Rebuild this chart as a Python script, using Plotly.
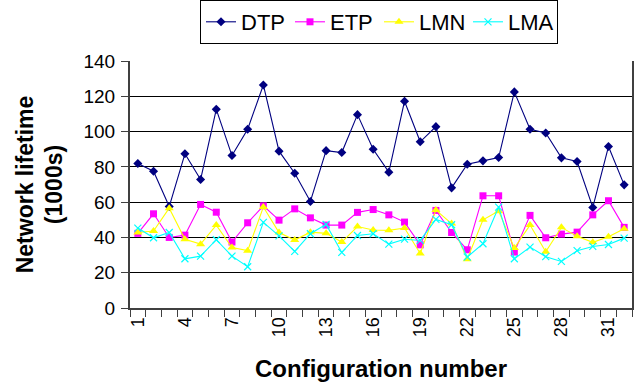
import plotly.graph_objects as go

# Network lifetime (1000s) for each of the 32 configurations
configs = list(range(1, 33))
dtp = [81.9, 77.5, 57.5, 87.4, 72.8, 112.6, 86.4, 101.3, 126.4, 88.9,
       76.4, 60.4, 89.2, 88.1, 109.6, 90.0, 77.0, 117.2, 94.2, 102.8,
       68.1, 81.5, 83.4, 85.3, 122.5, 101.3, 99.2, 85.1, 83.0, 57.0,
       91.5, 69.8]
etp = [42.3, 53.4, 40.0, 41.3, 58.7, 54.3, 37.4, 48.3, 57.9, 49.8,
       56.2, 51.1, 47.0, 47.0, 54.2, 55.8, 52.8, 48.7, 35.8, 55.3,
       42.8, 33.0, 63.6, 63.6, 31.7, 52.5, 39.8, 41.9, 43.0, 52.8,
       60.8, 45.7]
lmn = [42.8, 43.6, 56.6, 39.0, 36.2, 47.0, 34.3, 32.5, 57.2, 42.8,
       38.5, 43.0, 42.3, 37.4, 46.2, 44.2, 44.0, 45.3, 30.9, 55.5,
       47.9, 27.7, 50.0, 54.9, 34.0, 47.0, 31.9, 45.7, 40.6, 37.2,
       40.4, 44.9]
lma = [45.3, 39.8, 42.8, 27.9, 29.4, 38.7, 29.4, 23.4, 48.5, 40.9,
       32.1, 42.1, 47.4, 31.5, 41.1, 42.1, 36.2, 39.0, 38.3, 50.2,
       47.2, 28.9, 36.4, 57.2, 27.9, 34.5, 29.1, 26.4, 32.5, 34.9,
       36.0, 39.6]
x_ticks = list(range(1, 33, 3))
y_ticks = list(range(0, 141, 20))

FONT = "Liberation Sans, Arial, sans-serif"

series = [
    ("DTP", dtp, "#000080", dict(symbol="diamond", size=7)),
    ("ETP", etp, "#FF00FF", dict(symbol="square", size=7)),
    ("LMN", lmn, "#FFFF00", dict(symbol="triangle-up", size=8)),
    ("LMA", lma, "#00FFFF", dict(symbol="x-thin", size=7,
                                 line=dict(width=1.2, color="#00FFFF"))),
]

fig = go.Figure()
for name, vals, color, marker in series:
    fig.add_trace(go.Scatter(
        x=configs, y=vals, name=name, mode="lines+markers",
        line=dict(color=color, width=1.1),
        marker=dict(color=color, **marker),
    ))

fig.update_layout(
    width=640, height=387,
    margin=dict(l=130, r=6, t=61, b=79),
    paper_bgcolor="white", plot_bgcolor="white",
    font=dict(family=FONT, color="black"),
    showlegend=True,
    legend=dict(
        orientation="h", x=0.496, xanchor="center",
        yref="container", y=1.0, yanchor="top",
        font=dict(size=22, family=FONT),
        bordercolor="black", borderwidth=1,
        itemwidth=30, entrywidth=44, entrywidthmode="pixels",
        tracegroupgap=0,
    ),
    xaxis=dict(
        range=[0.5, 32.5], tickmode="array", tickvals=x_ticks,
        ticktext=[str(v) for v in x_ticks], tickangle=-90,
        ticks="", tickfont=dict(size=18),
        showgrid=False, zeroline=False,
        showline=True, linecolor="#404040", linewidth=2, mirror=False,
        minor=dict(tickmode="linear", tick0=0.5, dtick=1, ticks="outside",
                   ticklen=7, tickcolor="#404040", tickwidth=1, showgrid=False),
        title=dict(text="<b>Configuration number</b>",
                   font=dict(size=24), standoff=24),
    ),
    yaxis=dict(
        range=[0, 140], tickmode="array", tickvals=y_ticks,
        ticks="outside", ticklen=7, tickcolor="#404040",
        tickfont=dict(size=19), ticklabelstandoff=2,
        showgrid=True, gridcolor="black", gridwidth=1,
        zeroline=False,
        showline=True, linecolor="#404040", linewidth=2, mirror=True,
        title=dict(text="<b>Network lifetime<br>(1000s)</b>",
                   font=dict(size=23), standoff=14),
    ),
)

fig.write_html("out.html")
